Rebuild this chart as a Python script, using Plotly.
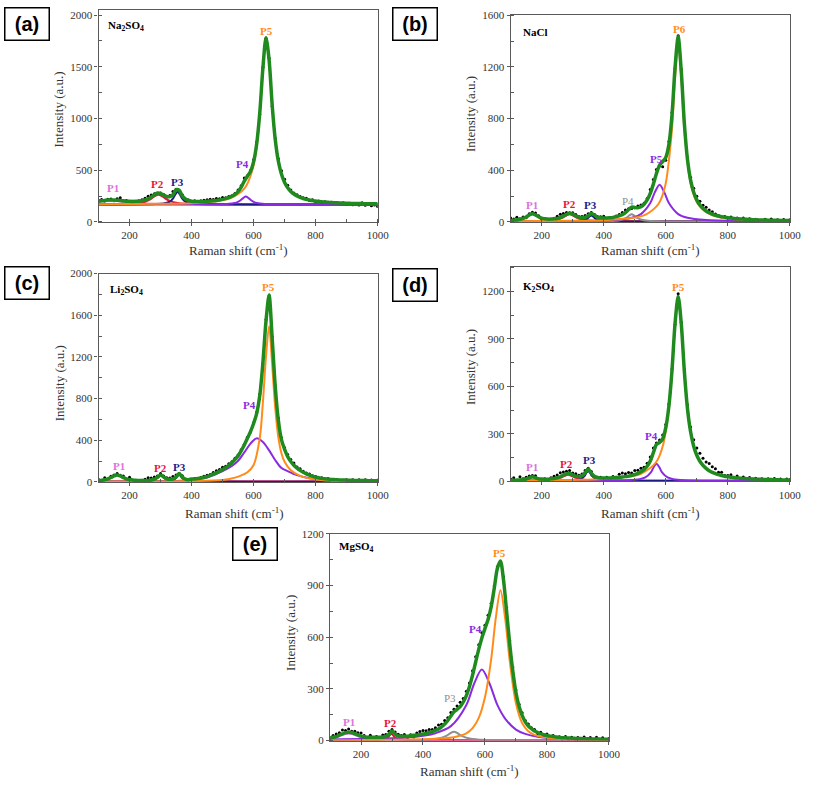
import plotly.graph_objects as go

RAMAN_X = list(range(100, 1001, 10))

# ---------------- (a) Na2SO4 ----------------
A_DATA = [210, 216, 203, 220, 223, 206, 225, 233, 200, 207,
          194, 201, 193, 206, 214, 230, 249, 261, 273, 276,
          280, 266, 241, 255, 294, 316, 299, 264, 216, 212,
          198, 204, 193, 204, 209, 215, 220, 218, 227, 224,
          236, 235, 247, 254, 276, 308, 351, 425, 447, 498,
          601, 772, 1038, 1497, 1776, 1583, 1118, 808, 610, 496,
          412, 355, 310, 280, 264, 246, 233, 228, 208, 214,
          196, 203, 187, 196, 184, 191, 179, 187, 174, 185,
          171, 175, 167, 175, 163, 185, 162, 168, 157, 165, 150]
A_FIT = [200, 204, 208, 212, 213, 212, 210, 208, 204, 201,
         199, 198, 199, 201, 204, 212, 224, 241, 263, 280,
         277, 260, 246, 245, 264, 311, 307, 252, 222, 208,
         201, 198, 197, 196, 197, 200, 202, 204, 207, 212,
         218, 225, 235, 248, 266, 294, 336, 395, 442, 488,
         581, 757, 1058, 1487, 1781, 1568, 1128, 793, 585, 461,
         382, 330, 295, 270, 252, 238, 227, 218, 212, 206,
         202, 198, 195, 192, 190, 188, 186, 185, 183, 182,
         181, 180, 179, 178, 178, 177, 176, 176, 175, 175, 175]
A_P1_X = [100, 120, 140, 160, 180, 200, 230, 260, 300, 400, 1000]
A_P1_Y = [194, 202, 206, 202, 194, 187, 180, 176, 173, 170, 168]
A_P2_X = [100, 200, 230, 250, 265, 279, 293, 307, 321, 335, 360, 400, 500, 1000]
A_P2_Y = [170, 176, 184, 196, 216, 244, 263, 244, 216, 197, 182, 174, 170, 168]
A_P3_X = [100, 285, 313, 327, 334, 341, 348, 355, 362, 369, 376, 383, 397, 425, 500, 1000]
A_P3_Y = [168, 173, 180, 193, 206, 230, 268, 293, 268, 230, 206, 193, 180, 173, 169, 168]
A_P4_X = [100, 485, 521, 539, 548, 557, 566, 575, 584, 593, 602, 611, 629, 665, 1000]
A_P4_Y = [168, 171, 176, 184, 192, 207, 230, 246, 230, 207, 192, 184, 176, 171, 168]
A_P5_X = [100, 300, 400, 480, 526, 572, 595, 606.5, 618, 629.5, 641, 652.5, 664, 675.5, 687, 710, 756, 800, 900, 1000]
A_P5_Y = [171, 175, 182, 200, 230, 329, 490, 664, 973, 1456, 1778, 1456, 973, 664, 490, 329, 230, 201, 181, 175]

# ---------------- (b) NaCl ----------------
B_DATA = [30, 22, 36, 25, 39, 32, 64, 76, 70, 48,
          21, 15, 10, 14, 28, 45, 59, 65, 74, 72,
          72, 57, 42, 43, 50, 64, 73, 58, 42, 41,
          45, 26, 35, 31, 47, 57, 74, 92, 102, 105,
          110, 123, 132, 145, 182, 251, 328, 405, 432, 427,
          478, 623, 846, 1187, 1440, 1181, 768, 498, 346, 260,
          199, 161, 130, 113, 92, 79, 62, 50, 39, 42,
          28, 38, 19, 31, 18, 30, 14, 24, 8, 21,
          8, 3, 20, 8, 23, 8, 17, 8, 19, 9, 17]
B_FIT = [12, 14, 16, 20, 27, 38, 54, 64, 55, 40,
         29, 25, 22, 22, 24, 27, 34, 45, 59, 68,
         60, 47, 37, 33, 36, 49, 65, 53, 38, 33,
         31, 31, 32, 35, 41, 47, 56, 72, 94, 115,
         112, 109, 117, 137, 170, 221, 293, 375, 440, 467,
         498, 598, 826, 1197, 1432, 1166, 758, 483, 324, 230,
         171, 131, 105, 85, 72, 61, 52, 46, 41, 36,
         32, 30, 27, 25, 23, 22, 20, 19, 18, 17,
         16, 15, 15, 14, 14, 13, 13, 12, 12, 11, 11]
B_P1_X = [100, 126, 148, 159, 170, 181, 192, 214, 236, 280, 400, 1000]
B_P1_Y = [9, 15, 31.5, 48, 59, 48, 31.5, 15, 9.5, 6, 4.5, 4]
B_P2_X = [100, 170, 218, 242, 266, 278, 290, 302, 314, 338, 362, 410, 1000]
B_P2_Y = [4.5, 6.1, 9.5, 15, 31.5, 48, 59, 48, 31.5, 15, 9.5, 6.1, 4]
B_P3_X = [100, 295, 321, 334, 347, 353.5, 360, 366.5, 373, 386, 399, 425, 1000]
B_P3_Y = [4, 5.7, 8.5, 13, 26.5, 40, 49, 40, 26.5, 13, 8.5, 5.7, 4]
B_P4_X = [100, 400, 436, 454, 472, 481, 490, 499, 508, 526, 544, 580, 1000]
B_P4_Y = [4, 6.1, 9.5, 15, 31.5, 48, 59, 48, 31.5, 15, 9.5, 6.1, 4]
B_P5_X = [100, 430, 490, 520, 550, 565, 580, 595, 610, 640, 670, 730, 850, 1000]
B_P5_Y = [5, 15, 32, 61, 146, 231, 288, 231, 146, 61, 32, 15, 7.4, 5]
B_P6_X = [100, 300, 400, 500, 535, 577, 598, 619, 629.5, 640, 650.5, 661, 682, 703, 745, 800, 900, 1000]
B_P6_Y = [6, 9, 14, 34, 57, 141, 278, 689, 1100, 1374, 1100, 689, 278, 141, 57, 27, 13, 9]

# ---------------- (c) Li2SO4 ----------------
C_DATA = [23, 8, 39, 25, 54, 67, 80, 63, 57, 23,
          45, 8, 5, 8, 17, 25, 39, 38, 48, 57,
          81, 58, 40, 37, 53, 67, 82, 60, 20, 14,
          22, 33, 27, 43, 55, 65, 72, 90, 107, 120,
          140, 151, 175, 193, 228, 258, 309, 361, 428, 478,
          569, 668, 843, 1133, 1558, 1785, 1395, 923, 613, 423,
          328, 263, 214, 182, 143, 126, 103, 86, 77, 60,
          52, 36, 39, 22, 33, 18, 26, 8, 13, 8,
          20, 8, 21, 4, 22, 7, 22, 8, 18, 8, 18]
C_FIT = [13, 16, 21, 29, 42, 57, 66, 57, 42, 29,
         23, 18, 15, 13, 13, 13, 14, 18, 26, 45,
         67, 48, 30, 25, 28, 47, 80, 46, 26, 22,
         28, 29, 33, 38, 45, 51, 62, 74, 87, 102,
         118, 137, 159, 183, 216, 250, 299, 355, 418, 483,
         561, 658, 831, 1143, 1543, 1793, 1375, 908, 588, 403,
         313, 243, 196, 160, 133, 111, 93, 78, 65, 55,
         46, 40, 34, 30, 27, 24, 22, 20, 19, 18,
         17, 16, 15, 14, 14, 13, 13, 12, 12, 11, 11]
C_P1_X = [100, 110, 135, 147.5, 160, 172.5, 185, 210, 235, 285, 400, 1000]
C_P1_Y = [12.2, 15.4, 34, 52.6, 65, 52.6, 34, 15.4, 9.2, 5.4, 3.5, 3]
C_P2_X = [100, 230, 258, 272, 286, 293, 300, 307, 314, 328, 342, 370, 1000]
C_P2_Y = [3, 5.2, 8.8, 14.6, 32, 49.4, 61, 49.4, 32, 14.6, 8.8, 5.2, 3]
C_P3_X = [100, 310, 330, 340, 350, 355, 360, 365, 370, 380, 390, 410, 1000]
C_P3_Y = [3, 5.6, 9.8, 16.6, 37, 57.4, 71, 57.4, 37, 16.6, 9.8, 5.6, 3]
C_P4_X = [100, 300, 350, 400, 450, 500, 530, 550, 570, 590, 610, 630, 650, 670, 690, 710, 740, 780, 850, 1000]
C_P4_Y = [4, 5, 8, 18, 43, 103, 153, 203, 283, 368, 418, 383, 303, 208, 133, 103, 65, 35, 15, 6]
C_P5_X = [100, 400, 500, 540, 580, 600, 620, 630, 640, 650, 660, 670, 680, 690, 700, 720, 750, 800, 850, 1000]
C_P5_Y = [3, 8, 18, 41, 93, 163, 423, 763, 1203, 1493, 1123, 703, 423, 273, 193, 111, 58, 23, 12, 5]

# ---------------- (d) K2SO4 ----------------
D_DATA = [15, 22, 4, 29, 17, 25, 34, 37, 35, 10,
          6, 17, 5, 22, 32, 40, 54, 59, 63, 69,
          53, 48, 39, 47, 69, 83, 62, 27, 14, 26,
          13, 25, 15, 30, 26, 45, 52, 48, 55, 52,
          68, 70, 82, 89, 115, 153, 211, 243, 261, 293,
          359, 489, 710, 992, 1185, 1006, 707, 484, 343, 262,
          210, 177, 146, 122, 112, 92, 79, 57, 57, 37,
          37, 41, 25, 33, 15, 28, 13, 24, 9, 19,
          6, 16, 4, 17, 5, 18, 4, 14, 5, 15, 6]
D_FIT = [7, 7, 8, 9, 11, 15, 22, 29, 23, 16,
         14, 13, 13, 16, 18, 22, 29, 39, 48, 49,
         41, 33, 31, 35, 54, 78, 52, 32, 24, 21,
         21, 21, 21, 22, 24, 25, 27, 30, 33, 37,
         43, 50, 60, 74, 95, 128, 181, 233, 246, 268,
         339, 474, 700, 1000, 1170, 996, 692, 459, 313, 222,
         165, 127, 101, 82, 67, 57, 49, 42, 37, 32,
         29, 26, 23, 21, 20, 18, 17, 16, 15, 14,
         13, 13, 12, 11, 11, 10, 10, 9, 9, 9, 8]
D_P1_X = [100, 125, 140, 155, 162.5, 170, 177.5, 185, 200, 215, 245, 400, 1000]
D_P1_Y = [3.9, 5.2, 7.4, 14, 20.6, 25, 20.6, 14, 7.4, 5.2, 3.8, 3.2, 3]
D_P2_X = [100, 160, 210, 235, 260, 272.5, 285, 297.5, 310, 335, 360, 410, 1000]
D_P2_Y = [3.5, 4.5, 6.8, 10.6, 22, 33.4, 41, 33.4, 22, 10.6, 6.8, 4.5, 3]
D_P3_X = [100, 290, 314, 326, 338, 344, 350, 356, 362, 374, 386, 410, 1000]
D_P3_Y = [3, 5.4, 9.2, 15.4, 34, 52.6, 65, 52.6, 34, 15.4, 9.2, 5.4, 3]
D_P4_X = [100, 480, 516, 534, 552, 561, 570, 579, 588, 606, 624, 660, 1000]
D_P4_Y = [3.2, 7.2, 13.8, 24.6, 57, 89.4, 111, 89.4, 57, 24.6, 13.8, 7.2, 3.2]
D_P5_X = [100, 300, 400, 500, 520, 568, 592, 616, 628, 640, 652, 664, 688, 712, 760, 800, 900, 1000]
D_P5_Y = [5.3, 8.8, 14.5, 36, 47.7, 119, 235, 583, 931, 1163, 931, 583, 235, 119, 47.7, 28.5, 12.8, 8.2]

# ---------------- (e) MgSO4 ----------------
E_DATA = [9, 29, 38, 46, 61, 58, 67, 55, 55, 45,
          44, 30, 10, 31, 11, 24, 13, 33, 35, 55,
          64, 50, 37, 30, 35, 18, 34, 21, 44, 53,
          58, 57, 64, 64, 74, 90, 95, 116, 132, 163,
          182, 201, 222, 244, 286, 334, 405, 486, 556, 626,
          670, 728, 796, 899, 1009, 1032, 951, 772, 579, 427,
          294, 211, 161, 117, 97, 75, 64, 42, 49, 28,
          38, 18, 30, 11, 23, 7, 24, 3, 19, 3,
          18, 4, 21, 5, 18, 5, 19, 5, 16, 2, 12]
E_FIT = [17, 19, 23, 32, 39, 46, 49, 47, 40, 33,
         26, 22, 20, 19, 19, 19, 19, 21, 25, 37,
         56, 38, 27, 25, 25, 26, 28, 31, 32, 35,
         38, 42, 46, 52, 59, 68, 80, 96, 117, 143,
         167, 181, 197, 224, 261, 314, 380, 456, 531, 596,
         650, 703, 776, 884, 999, 1042, 931, 747, 559, 402,
         279, 199, 146, 109, 85, 69, 56, 47, 39, 34,
         30, 26, 24, 21, 19, 17, 16, 15, 14, 13,
         12, 12, 11, 11, 10, 10, 9, 9, 8, 8, 8]
E_P1_X = [100, 125, 142.5, 160, 177.5, 195, 230, 265, 335, 500, 1000]
E_P1_Y = [12.2, 22, 34, 42, 34, 22, 10, 6, 3.5, 2.3, 2]
E_P2_X = [100, 248, 268, 278, 288, 293, 298, 303, 308, 318, 328, 348, 1000]
E_P2_Y = [2, 3.5, 5.8, 9.6, 21, 32.4, 40, 32.4, 21, 9.6, 5.8, 3.5, 2]
E_P3_X = [100, 375, 425, 450, 475, 487.5, 500, 512.5, 525, 550, 575, 625, 1000]
E_P3_Y = [2.3, 3.9, 7, 12, 27, 42, 52, 42, 27, 12, 7, 3.9, 2.3]
E_P4_X = [100, 300, 350, 400, 440, 490, 540, 565, 590, 615, 640, 665, 700, 730, 770, 810, 900, 1000]
E_P4_Y = [6, 13, 18, 28.5, 43, 84, 207, 330, 412, 330, 207, 128, 64, 39, 22, 14, 8, 6]
E_P5_X = [100, 400, 450, 500, 540, 560, 580, 600, 620, 635, 650, 665, 680, 700, 720, 740, 760, 800, 850, 1000]
E_P5_Y = [2, 8, 12, 20, 42, 72, 132, 252, 472, 712, 872, 712, 462, 217, 102, 54, 33, 16, 9, 4]

# ---------------- styling ----------------
W, H = 813, 786
SERIF = "Liberation Serif, Times New Roman, DejaVu Serif, serif"
SANS = "Liberation Sans, Arial, DejaVu Sans, sans-serif"
FRAME = "#5a5a5a"
GREEN = "#1f8b1f"
PINK = "#dc72dc"
RED = "#e8123c"
NAVY = "#1c1c86"
PURPLE = "#8a2be2"
ORANGE = "#ff8c1a"
GRAY = "#8f8f8f"


def px(x):
    return x / W


def py(y):
    return 1 - y / H


PANELS = [
    dict(n=1, xd=(100, 383.3), yd=(4, 219.3), yr=2050, dt=500,
         data=A_DATA, fit=A_FIT,
         comps=[(A_P1_X, A_P1_Y, PINK), (A_P2_X, A_P2_Y, RED), (A_P3_X, A_P3_Y, NAVY),
                (A_P4_X, A_P4_Y, PURPLE), (A_P5_X, A_P5_Y, ORANGE)],
         name="Na<sub>2</sub>SO<sub>4</sub>", name_xy=(123, 1899),
         labels=[("P1", 148, 325, PINK, True), ("P2", 291, 363, RED, True), ("P3", 356, 389, NAVY, True),
                 ("P4", 564, 559, PURPLE, True), ("P5", 642, 1851, ORANGE, True)],
         letter="(a)", box=(27.5, 18.5), ytitle=(59, 105), xtitle=(242, 248)),
    dict(n=2, xd=(518.3, 801.7), yd=(9.3, 219.3), yr=1600, dt=400,
         data=B_DATA, fit=B_FIT,
         comps=[(B_P1_X, B_P1_Y, PINK), (B_P2_X, B_P2_Y, RED), (B_P3_X, B_P3_Y, NAVY),
                (B_P4_X, B_P4_Y, GRAY), (B_P5_X, B_P5_Y, PURPLE), (B_P6_X, B_P6_Y, ORANGE)],
         name="NaCl", name_xy=(132, 1473),
         labels=[("P1", 170, 134, PINK, True), ("P2", 290, 139, RED, True), ("P3", 359, 132, NAVY, True),
                 ("P4", 478, 162, GRAY, False), ("P5", 571, 486, PURPLE, True), ("P6", 643, 1490, ORANGE, True)],
         letter="(b)", box=(421.5, 18.5), ytitle=(477.7, 110), xtitle=(660, 248)),
    dict(n=3, xd=(100, 383.3), yd=(271.7, 483.3), yr=2000, dt=400,
         data=C_DATA, fit=C_FIT,
         comps=[(C_P1_X, C_P1_Y, PINK), (C_P2_X, C_P2_Y, RED), (C_P3_X, C_P3_Y, NAVY),
                (C_P4_X, C_P4_Y, PURPLE), (C_P5_X, C_P5_Y, ORANGE)],
         name="Li<sub>2</sub>SO<sub>4</sub>", name_xy=(132, 1843),
         labels=[("P1", 166, 151, PINK, True), ("P2", 299, 132, RED, True), ("P3", 360, 142, NAVY, True),
                 ("P4", 588, 740, PURPLE, True), ("P5", 649, 1874, ORANGE, True)],
         letter="(c)", box=(27.5, 281.5), ytitle=(60, 383), xtitle=(238, 515)),
    dict(n=4, xd=(518.3, 801.7), yd=(265, 482.7), yr=1355, dt=300,
         data=D_DATA, fit=D_FIT,
         comps=[(D_P1_X, D_P1_Y, PINK), (D_P2_X, D_P2_Y, RED), (D_P3_X, D_P3_Y, NAVY),
                (D_P4_X, D_P4_Y, PURPLE), (D_P5_X, D_P5_Y, ORANGE)],
         name="K<sub>2</sub>SO<sub>4</sub>", name_xy=(134, 1231),
         labels=[("P1", 169, 89, PINK, True), ("P2", 280, 110, RED, True), ("P3", 354, 137, NAVY, True),
                 ("P4", 555, 286, PURPLE, True), ("P5", 640, 1231, ORANGE, True)],
         letter="(d)", box=(421.5, 283.5), ytitle=(477.7, 367), xtitle=(660, 515)),
    dict(n=5, xd=(335, 618), yd=(536, 746), yr=1200, dt=300,
         data=E_DATA, fit=E_FIT,
         comps=[(E_P1_X, E_P1_Y, PINK), (E_P2_X, E_P2_Y, RED), (E_P3_X, E_P3_Y, GRAY),
                (E_P4_X, E_P4_Y, PURPLE), (E_P5_X, E_P5_Y, ORANGE)],
         name="MgSO<sub>4</sub>", name_xy=(121, 1126),
         labels=[("P1", 160, 107, PINK, True), ("P2", 296, 101, RED, True), ("P3", 487, 248, GRAY, False),
                 ("P4", 570, 648, PURPLE, True), ("P5", 648, 1086, ORANGE, True)],
         letter="(e)", box=(259, 546), ytitle=(295, 637), xtitle=(477, 777)),
]

fig = go.Figure()
annotations = []
layout_axes = {}

for p in PANELS:
    n = p["n"]
    xa = "x" if n == 1 else f"x{n}"
    ya = "y" if n == 1 else f"y{n}"
    fig.add_trace(go.Scatter(x=RAMAN_X, y=p["data"], mode="markers", xaxis=xa, yaxis=ya,
                             marker=dict(color="black", size=3), showlegend=False, hoverinfo="skip"))
    for cx, cy, col in p["comps"]:
        fig.add_trace(go.Scatter(x=cx, y=cy, mode="lines", xaxis=xa, yaxis=ya,
                                 line=dict(color=col, width=2, shape="spline", smoothing=0.9),
                                 showlegend=False, hoverinfo="skip"))
    fig.add_trace(go.Scatter(x=RAMAN_X, y=p["fit"], mode="lines", xaxis=xa, yaxis=ya,
                             line=dict(color=GREEN, width=3.5, shape="spline", smoothing=0.8),
                             showlegend=False, hoverinfo="skip"))

    common = dict(showline=True, linecolor=FRAME, linewidth=1.2, mirror=True,
                  ticks="outside", ticklen=3, tickcolor=FRAME, tickwidth=1,
                  tickfont=dict(family=SERIF, size=11, color="#333333"),
                  showgrid=False, zeroline=False, fixedrange=True)
    xkey = "xaxis" if n == 1 else f"xaxis{n}"
    ykey = "yaxis" if n == 1 else f"yaxis{n}"
    layout_axes[xkey] = dict(common, domain=[px(p["xd"][0]), px(p["xd"][1])], anchor=ya,
                             range=[100, 1000], tick0=0, dtick=200,
                             minor=dict(ticks="inside", ticklen=3, tickcolor=FRAME, dtick=100, tick0=0))
    layout_axes[ykey] = dict(common, domain=[py(p["yd"][1]), py(p["yd"][0])], anchor=xa,
                             range=[0, p["yr"]], tick0=0, dtick=p["dt"],
                             minor=dict(ticks="inside", ticklen=3, tickcolor=FRAME, dtick=p["dt"] / 2, tick0=0))

    annotations.append(dict(x=p["name_xy"][0], y=p["name_xy"][1], xref=xa, yref=ya,
                            text=f"<b>{p['name']}</b>", showarrow=False, xanchor="left", yanchor="middle",
                            font=dict(family=SERIF, size=11, color="black")))
    for txt, lx, ly, col, bold in p["labels"]:
        annotations.append(dict(x=lx, y=ly, xref=xa, yref=ya,
                                text=f"<b>{txt}</b>" if bold else txt, showarrow=False,
                                xanchor="center", yanchor="middle",
                                font=dict(family=SERIF, size=11, color=col)))
    annotations.append(dict(x=px(p["box"][0]), y=py(p["box"][1]), xref="paper", yref="paper",
                            text=f"<b>{p['letter']}</b>", showarrow=False, xanchor="center", yanchor="middle",
                            font=dict(family=SANS, size=20, color="black"),
                            bordercolor="black", borderwidth=1.5, borderpad=1, width=41, height=29))
    annotations.append(dict(x=px(p["ytitle"][0]), y=py(p["ytitle"][1]), xref="paper", yref="paper",
                            text="Intensity (a.u.)", showarrow=False, textangle=-90,
                            xanchor="center", yanchor="middle",
                            font=dict(family=SERIF, size=13, color="#333333")))
    annotations.append(dict(x=px(p["xtitle"][0]), y=py(p["xtitle"][1]), xref="paper", yref="paper",
                            text="Raman shift (cm<sup>-1</sup>)", showarrow=False,
                            xanchor="center", yanchor="middle",
                            font=dict(family=SERIF, size=13, color="#333333")))

fig.update_layout(width=W, height=H, margin=dict(l=0, r=0, t=0, b=0),
                  paper_bgcolor="white", plot_bgcolor="white",
                  font=dict(family=SERIF),
                  annotations=annotations, showlegend=False, **layout_axes)

fig.write_html("out.html")
